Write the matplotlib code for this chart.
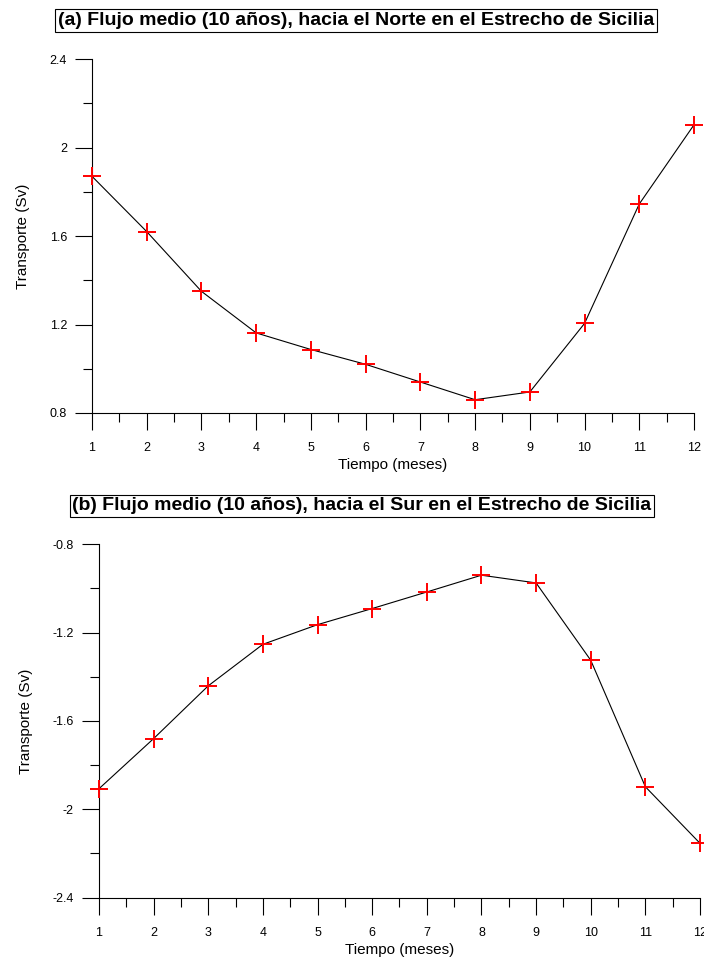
import numpy as np
import matplotlib
matplotlib.use("Agg")
import matplotlib.pyplot as plt
from matplotlib.ticker import MultipleLocator

plt.rcParams["font.family"] = ["Liberation Sans", "DejaVu Sans"]

# Datos (Sv)
meses = [1, 2, 3, 4, 5, 6, 7, 8, 9, 10, 11, 12]
flujo_norte = [1.87, 1.62, 1.35, 1.162, 1.087, 1.02, 0.94, 0.86, 0.895, 1.205, 1.745, 2.103]
flujo_sur = [-1.907, -1.68, -1.441, -1.253, -1.164, -1.091, -1.016, -0.94, -0.975, -1.325, -1.898, -2.154]

titulos = ["(a) Flujo medio (10 años), hacia el Norte en el Estrecho de Sicilia",
           "(b) Flujo medio (10 años), hacia el Sur en el Estrecho de Sicilia"]
ylims = [(0.8, 2.4), (-2.4, -0.8)]

fig = plt.figure(figsize=(7.04, 9.69), dpi=100)
ax1 = fig.add_axes([0.1307, 0.5738, 0.8551, 0.3652])
ax2 = fig.add_axes([0.1406, 0.0737, 0.8537, 0.3646])

for ax, datos, ylim in zip([ax1, ax2], [flujo_norte, flujo_sur], ylims):
    ax.plot(meses, datos, color="black", linewidth=0.8, zorder=2)
    ax.plot(meses, datos, linestyle="none", marker="+", color="red",
            markersize=13, markeredgewidth=1.4, zorder=3, clip_on=False)
    ax.set_xlim(1, 12)
    ax.set_ylim(*ylim)
    ax.xaxis.set_major_locator(MultipleLocator(1))
    ax.xaxis.set_minor_locator(MultipleLocator(0.5))
    ax.yaxis.set_major_locator(MultipleLocator(0.4))
    ax.yaxis.set_minor_locator(MultipleLocator(0.2))
    ax.yaxis.set_major_formatter(plt.FuncFormatter(lambda v, p: f"{v:g}"))
    for s in ["top", "right"]:
        ax.spines[s].set_visible(False)
    ax.spines["left"].set_linewidth(0.8)
    ax.spines["bottom"].set_linewidth(0.8)
    ax.tick_params(which="major", direction="out", length=12, width=0.8, labelsize=9)
    ax.tick_params(axis="x", which="major", pad=9)
    ax.tick_params(axis="y", which="major", pad=6)
    ax.tick_params(which="minor", direction="out", length=6.5, width=0.8)
    ax.set_xlabel("Tiempo (meses)", fontsize=11, labelpad=3)
    ax.set_ylabel("Transporte (Sv)", fontsize=11, labelpad=14)

# titulos con recuadro, centrados en la figura
fig.text(356 / 704, 1 - 20.5 / 969, titulos[0], ha="center", va="center",
         fontsize=14, fontweight="bold",
         bbox=dict(facecolor="white", edgecolor="black", linewidth=0.8, pad=2))
fig.text(362 / 704, 1 - 506 / 969, titulos[1], ha="center", va="center",
         fontsize=14, fontweight="bold",
         bbox=dict(facecolor="white", edgecolor="black", linewidth=0.8, pad=2))

plt.savefig("out.png", dpi=100)
